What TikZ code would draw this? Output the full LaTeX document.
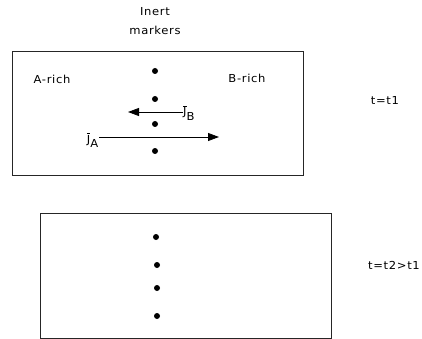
\documentclass[tikz,border=0pt]{standalone}
\usepackage{fontspec}
\setmainfont{DejaVu Sans}[LetterSpace=6,FakeStretch=1.05]
\usetikzlibrary{arrows.meta}
\begin{document}
\begin{tikzpicture}[x=1pt,y=-1pt,
  lbl/.style={inner sep=0pt,font=\fontsize{11}{13}\selectfont},
  box/.style={draw=black!85,line width=0.9pt},
  marker/.style={circle,fill=black,inner sep=0pt,minimum size=6pt},
  flux/.style={line width=0.8pt,-{Triangle[length=11pt,width=8pt]}}]
\useasboundingbox (0,0) rectangle (422,339);
% boxes
\draw[box] (12,51) rectangle (303,175);
\draw[box] (40,213) rectangle (331,338);
% labels
\node[lbl] (inert) at (155,12) {Inert};
\node[lbl] (markers) at (155,30) {markers};
\node[lbl] (arich) at (52,79) {A-rich};
\node[lbl] (brich) at (247,78) {B-rich};
\node[lbl] (t1) at (385,100) {t=t1};
\node[lbl] (t2) at (394,265) {t=t2>t1};
% markers top
\node[marker] (m1) at (155,71) {};
\node[marker] (m2) at (155,99) {};
\node[marker] (m3) at (155,124) {};
\node[marker] (m4) at (155,151) {};
% markers bottom
\node[marker] (n1) at (156,237) {};
\node[marker] (n2) at (157,265) {};
\node[marker] (n3) at (157,288) {};
\node[marker] (n4) at (157,316) {};
% fluxes
\node[lbl,anchor=base west] (jb) at (183,116) {$\overline{\mbox{J}}_{\mbox{B}}$};
\node[lbl,anchor=base east] (ja) at (99,143) {$\overline{\mbox{J}}_{\mbox{A}}$};
\coordinate (jbend) at (128,112);
\coordinate (jaend) at (219,137);
\draw[flux] (jbend -| jb.west) -- (jbend);
\draw[flux] (jaend -| ja.east) -- (jaend);
\end{tikzpicture}
\end{document}
